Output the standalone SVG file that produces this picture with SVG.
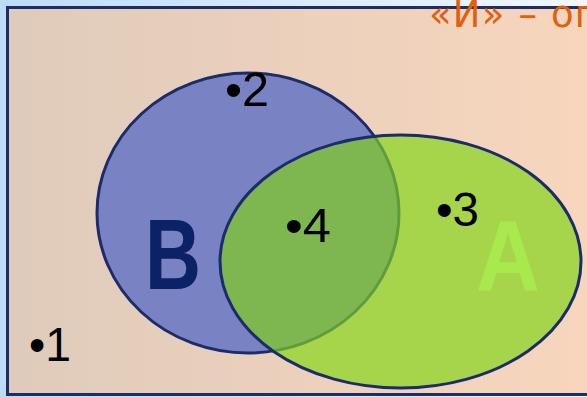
<svg xmlns="http://www.w3.org/2000/svg" width="587" height="397" viewBox="0 0 587 397">
<defs>
<linearGradient id="bg" x1="0" y1="0" x2="1" y2="0">
<stop offset="0" stop-color="#bcdcf8"/>
<stop offset="1" stop-color="#f2f8fe"/>
</linearGradient>
<linearGradient id="panel" x1="0" y1="0" x2="1" y2="0">
<stop offset="0" stop-color="#dfcbbb"/>
<stop offset="1" stop-color="#f8d6bd"/>
</linearGradient>
<clipPath id="clipB"><ellipse cx="248" cy="213" rx="151" ry="140"/></clipPath>
<clipPath id="clipA"><ellipse cx="400.5" cy="261.5" rx="180.5" ry="126.5"/></clipPath>
<style>
.num{font-family:"Liberation Sans",Arial,sans-serif;font-size:48px;fill:#000}
.edge{fill:none;stroke:#1c2b6a;stroke-width:3}
</style>
</defs>
<rect x="0" y="0" width="587" height="397" fill="url(#bg)"/>
<rect id="universe" x="7.5" y="7.5" width="590" height="387" fill="url(#panel)" stroke="#1f2d66" stroke-width="3"/>
<text x="429" y="27" font-family="'DejaVu Sans',Verdana,sans-serif" font-size="37" fill="#e0600e" textLength="170" lengthAdjust="spacing">«И» – оп</text>
<g id="setB">
<ellipse cx="248" cy="213" rx="151" ry="140" fill="#7983c4"/>
<ellipse class="edge" cx="248" cy="213" rx="151" ry="140"/>
</g>
<g id="setA">
<ellipse cx="400.5" cy="261.5" rx="180.5" ry="126.5" fill="#a6d44b"/>
<ellipse cx="400.5" cy="261.5" rx="180.5" ry="126.5" fill="#7eb74f" clip-path="url(#clipB)"/>
<ellipse cx="248" cy="213" rx="151" ry="140" fill="none" stroke="#5f9c3c" stroke-width="3" clip-path="url(#clipA)"/>
<ellipse class="edge" cx="400.5" cy="261.5" rx="180.5" ry="126.5"/>
</g>
<text x="145" y="289" font-family="'Liberation Sans',Arial,sans-serif" font-weight="bold" font-size="100" fill="#0c2266" textLength="56" lengthAdjust="spacingAndGlyphs">B</text>
<text x="476" y="291" font-family="'Liberation Sans',Arial,sans-serif" font-weight="bold" font-size="100" fill="#a8ea4e" textLength="64" lengthAdjust="spacingAndGlyphs">A</text>
<g id="p1"><text class="num" x="29" y="361" textLength="42" lengthAdjust="spacingAndGlyphs">•1</text></g>
<g id="p2"><text class="num" x="225" y="106" textLength="44" lengthAdjust="spacingAndGlyphs">•2</text></g>
<g id="p3"><text class="num" x="436" y="226" textLength="43" lengthAdjust="spacingAndGlyphs">•3</text></g>
<g id="p4"><text class="num" x="285" y="242" textLength="46" lengthAdjust="spacingAndGlyphs">•4</text></g>
</svg>
